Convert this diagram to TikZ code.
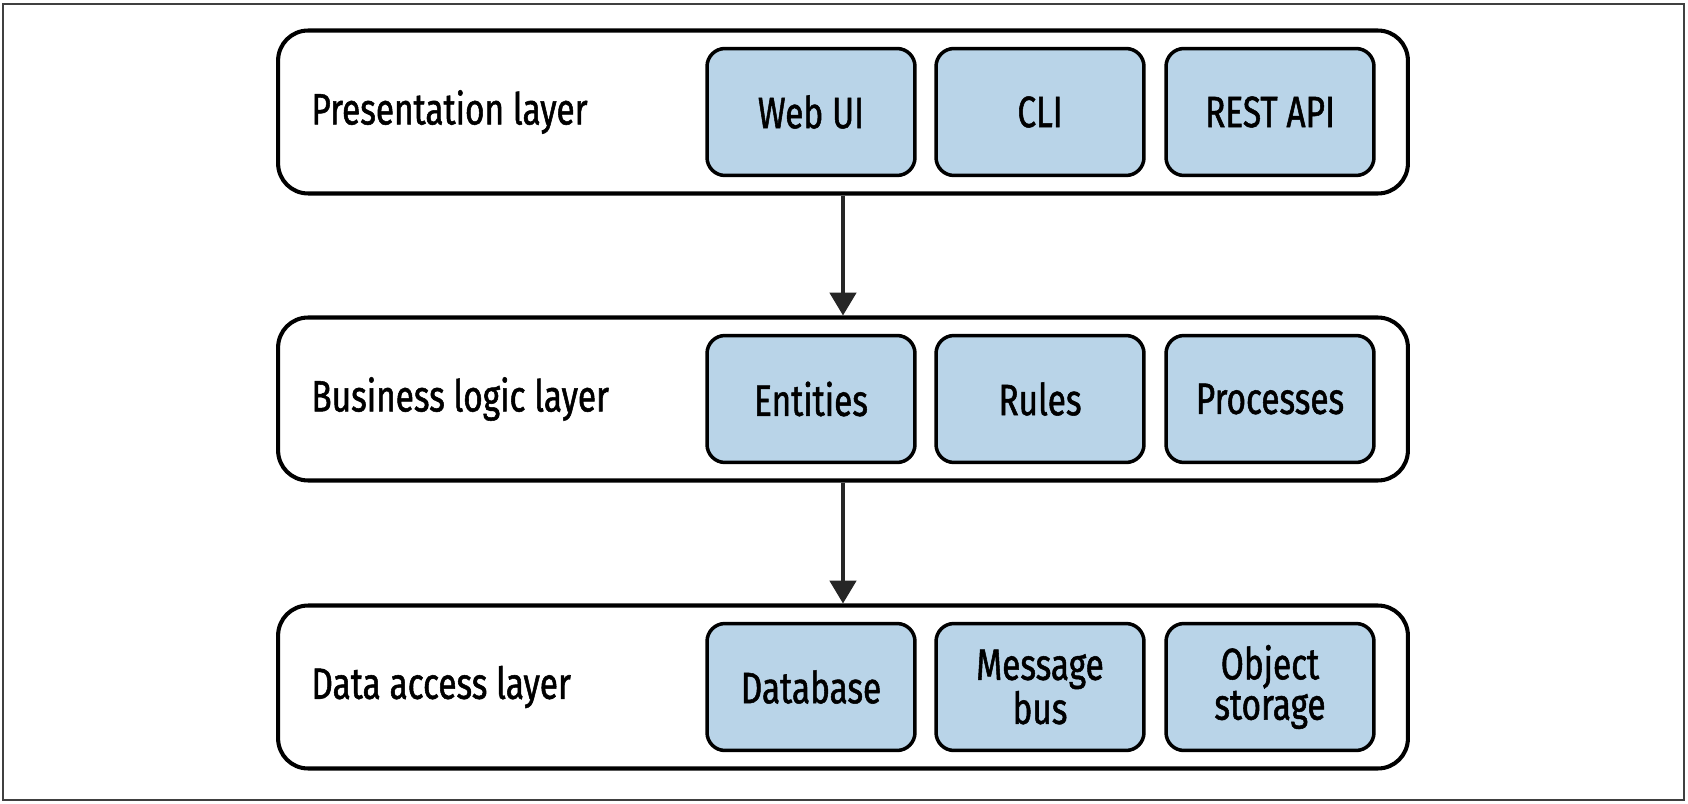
\documentclass[tikz,border=0pt]{standalone}
\usepackage{fontspec}
\setmainfont[FakeStretch=0.76, FakeBold=1.2]{Fira Sans}
\usepackage{tikz}
\usetikzlibrary{positioning, arrows.meta}
\definecolor{boxblue}{RGB}{185,212,232}
\definecolor{arrowgray}{RGB}{38,38,38}

\begin{document}
\begin{tikzpicture}[x=0.02cm, y=-0.02cm,
  every node/.style={font=\fontsize{25}{23}\selectfont},
  layer/.style={draw=black, line width=2.3pt, rounded corners=0.6cm, fill=white, minimum width=22.6cm, minimum height=3.26cm},
  part/.style={draw=black, line width=2pt, rounded corners=0.36cm, fill=boxblue, minimum width=4.16cm, minimum height=2.54cm, align=center},
  layername/.style={inner sep=0pt},
  flow/.style={draw=arrowgray, line width=2pt, -{Triangle[length=13pt, width=15pt]}}]
\useasboundingbox (0,0) rectangle (1688,804);
\draw [line width=0.8pt, black!75] (3,4) rectangle (1684,800);
\coordinate (P) at (843,112);
\coordinate (B) at (843,399);
\coordinate (D) at (843,687);
\node [layer] (pres) at (P) {};
\node [layer] (logic) at (B) {};
\node [layer] (data) at (D) {};
\node [layername, right=0.7cm of pres.west] (pres label) {Presentation layer};
\node [layername, right=0.7cm of logic.west] (logic label) {Business logic layer};
\node [layername, right=0.7cm of data.west] (data label) {Data access layer};
\node [part] (webui) at (811,112) {Web UI};
\node [part] (cli) at (1040,112) {CLI};
\node [part] (rest) at (1270,112) {REST API};
\node [part] (entities) at (811,399) {Entities};
\node [part] (rules) at (1040,399) {Rules};
\node [part] (processes) at (1270,399) {Processes};
\node [part] (database) at (811,687) {Database};
\node [part] (bus) at (1040,687) {Message\\bus};
\node [part] (storage) at (1270,687) {Object\\storage};
\draw [flow] (pres) -- (logic);
\draw [flow] (logic) -- (data);
\end{tikzpicture}
\end{document}
